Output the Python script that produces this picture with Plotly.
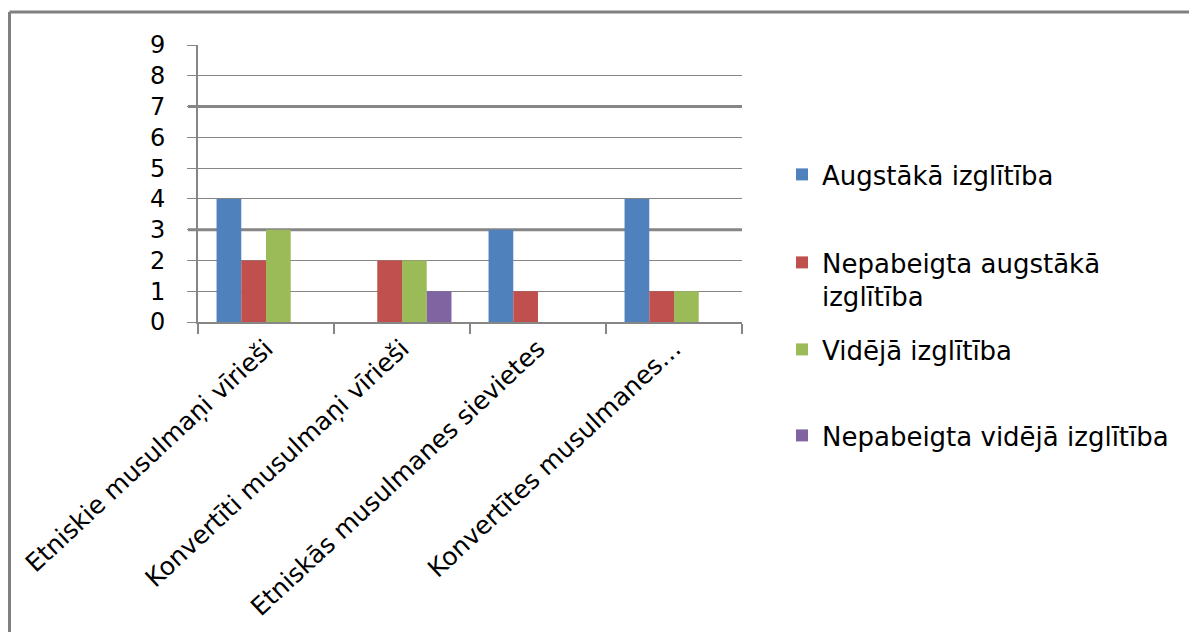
import plotly.graph_objects as go

categories = ["Etniskie musulmaņi vīrieši", "Konvertīti musulmaņi vīrieši",
              "Etniskās musulmanes sievietes", "Konvertītes musulmanes…"]
series_names = ["Augstākā izglītība", "Nepabeigta augstākā<br>izglītība",
                "Vidējā izglītība", "Nepabeigta vidējā izglītība"]
augstaka = [4, 0, 3, 4]
nepabeigta_augstaka = [2, 2, 1, 1]
videja = [3, 2, 0, 1]
nepabeigta_videja = [0, 1, 0, 0]
y_ticks = [0, 1, 2, 3, 4, 5, 6, 7, 8, 9]

values = [augstaka, nepabeigta_augstaka, videja, nepabeigta_videja]
colors = ["#4F81BD", "#C0504D", "#9BBB59", "#8064A2"]
legend_ids = ["legend", "legend2", "legend3", "legend4"]

FONT = "DejaVu Sans"
FS = 26
FS_X = 25
FS_Y = 24
OFF = 8  # page body margin
W, H = 1189, 624
# plot area in window pixels: x 198..742, y 45..322
PL, PR, PT, PB = 198, 742, 45, 322
L, T = PL - OFF, PT - OFF
R = W - (PR - OFF)
B = H - (PB - OFF)
pw, ph = PR - PL, PB - PT


def px_x(x):
    return (x - PL) / pw


def px_y(y):
    return (PB - y) / ph


fig = go.Figure()
for name, vals, col, lg in zip(series_names, values, colors, legend_ids):
    fig.add_trace(go.Bar(x=categories, y=vals, name=name, marker_color=col,
                         marker_line_width=0, legend=lg))

legend_tops = [151, 239, 326, 412]
legends = {}
for lg, top in zip(legend_ids, legend_tops):
    legends[lg] = dict(x=px_x(782), y=px_y(top), xanchor="left", yanchor="top",
                       font=dict(family=FONT, size=FS, color="#000000"),
                       bgcolor="rgba(0,0,0,0)", valign="top", borderwidth=0)

grid_col = "#868686"
fig.update_layout(
    width=W, height=H,
    margin=dict(l=L, r=R, t=T, b=B, pad=0, autoexpand=False),
    paper_bgcolor="white", plot_bgcolor="white",
    barmode="group", bargap=1.5 / 5.5, bargroupgap=0,
    font=dict(family=FONT, size=FS, color="#000000"),
    xaxis=dict(type="category", showline=True, linecolor=grid_col, linewidth=2,
               ticks="outside", tickson="boundaries", ticklen=10, tickcolor=grid_col,
               tickwidth=2, tickangle=-43, showgrid=False, automargin=False,
               tickfont=dict(family=FONT, size=FS_X, color="#000000")),
    yaxis=dict(range=[0, 9], tickvals=y_ticks, showline=True, linecolor=grid_col,
               linewidth=2, ticks="outside", ticklen=9, tickcolor=grid_col, tickwidth=1,
               showgrid=True, gridcolor=grid_col, gridwidth=1, zeroline=False,
               ticklabelstandoff=17, automargin=False,
               tickfont=dict(family=FONT, size=FS_Y, color="#000000")),
    showlegend=True,
    **legends,
)

# emphasised gridlines visible in the reference
for yv in [3, 7]:
    fig.add_shape(type="line", xref="paper", yref="y", x0=px_x(188), x1=1, y0=yv, y1=yv,
                  line=dict(color=grid_col, width=3), layer="below")

# outer chart frame (top and left edges), drawn near the figure's own left edge
frame_left = OFF + 1.5
fig.add_shape(type="line", xref="paper", yref="paper", x0=px_x(frame_left), x1=px_x(1230),
              y0=px_y(12), y1=px_y(12), line=dict(color="#808080", width=3))
fig.add_shape(type="line", xref="paper", yref="paper", x0=px_x(frame_left), x1=px_x(frame_left),
              y0=px_y(12), y1=px_y(660), line=dict(color="#808080", width=3))

fig.write_html("out.html")
